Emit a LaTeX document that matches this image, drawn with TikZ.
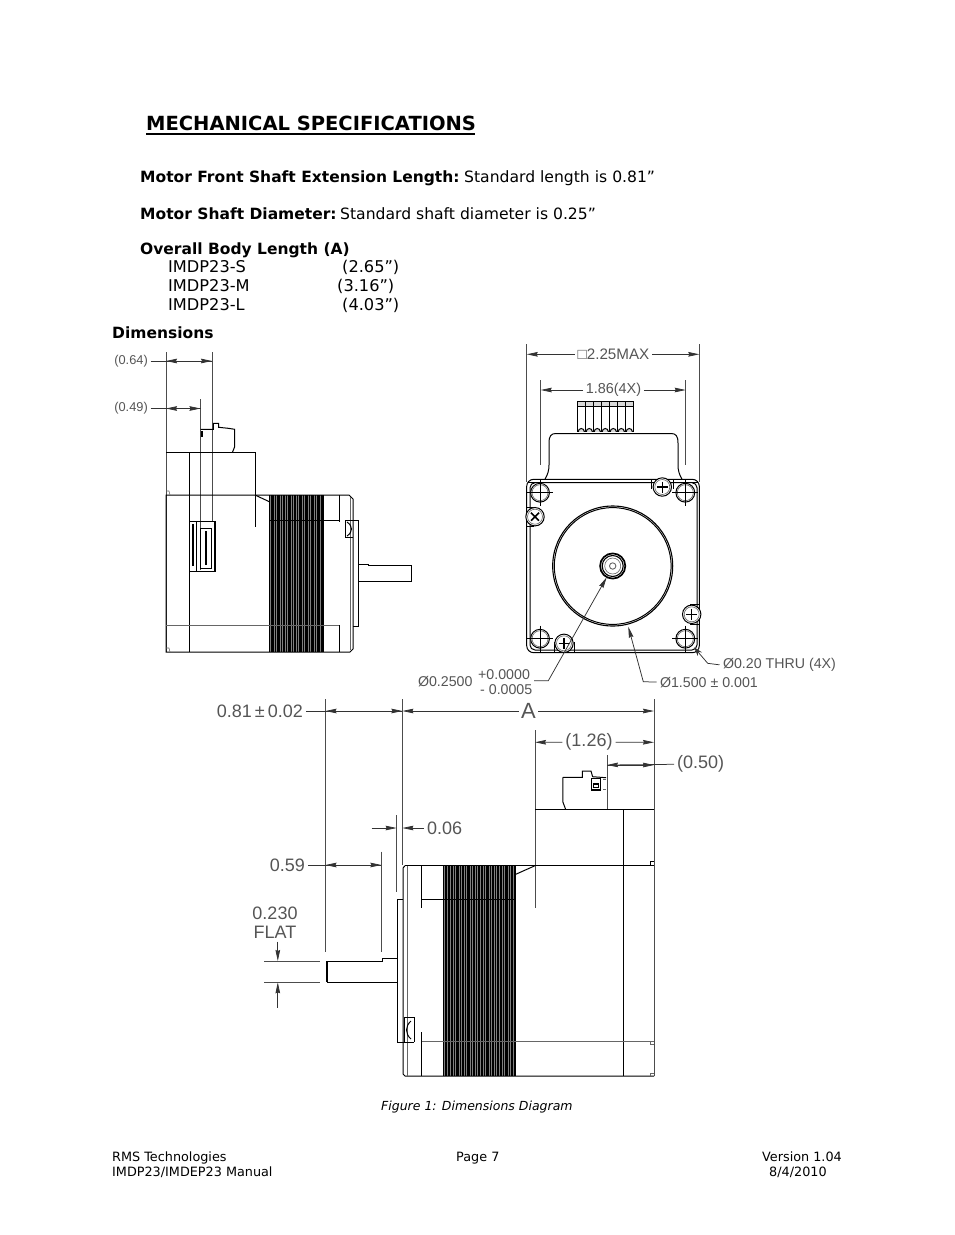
\documentclass[tikz,border=0pt]{standalone}
\usepackage{fontspec}
\setmainfont{DejaVu Sans}
\newfontfamily\dimfont{Liberation Sans}
\usetikzlibrary{arrows.meta}
\definecolor{dimgray}{HTML}{555555}
\tikzset{
    >={Stealth[length=11pt,width=4.6pt,inset=1pt]},
    pagetext/.style={anchor=base west,inner sep=0pt,font=\fontsize{15.6}{19}\selectfont},
    boldtext/.style={anchor=base west,inner sep=0pt,font=\bfseries\fontsize{15.5}{19}\selectfont},
    listtext/.style={anchor=base west,inner sep=0pt,font=\fontsize{16.2}{19}\selectfont},
    smalltext/.style={anchor=base west,inner sep=0pt,font=\fontsize{12.8}{15}\selectfont},
    dimtext/.style={inner sep=2.5pt,text=dimgray,font=\dimfont\fontsize{12.8}{14}\selectfont},
    leadtext/.style={anchor=base west,text=dimgray,font=\dimfont\fontsize{14.2}{16}\selectfont},
    bigdim/.style={inner sep=3pt,text=dimgray,font=\dimfont\fontsize{18}{20}\selectfont},
    dimline/.style={line width=0.75pt,draw=black!80},
    extline/.style={line width=0.75pt,draw=black!70},
    part/.style={line width=1pt},
    thinpart/.style={line width=0.6pt,draw=black!60},
    heavy/.style={line width=1.6pt}
}
\begin{document}
\begin{tikzpicture}[x=1pt,y=-1pt]
    \useasboundingbox (0,0) rectangle (954,1235);
    % heading and text
    \node[pagetext,font=\bfseries\fontsize{19.5}{21}\selectfont] (title) at (146,130) {MECHANICAL SPECIFICATIONS};
    \draw[line width=1.2pt] (146,134) -- (475,134);
    \node[boldtext] (shaftlen) at (140,182) {Motor Front Shaft Extension Length:};
    \node[pagetext] (shaftlenval) at (464,182) {Standard length is 0.81”};
    \node[boldtext] (shaftdia) at (140,219) {Motor Shaft Diameter:};
    \node[pagetext] (shaftdiaval) at (340,219) {Standard shaft diameter is 0.25”};
    \node[boldtext] (overall) at (140,254) {Overall Body Length (A)};
    \node[listtext] (smodel) at (168,272) {IMDP23-S};
    \node[listtext] (mmodel) at (168,291) {IMDP23-M};
    \node[listtext] (lmodel) at (168,310) {IMDP23-L};
    \node[listtext] (slen) at (342,272) {(2.65”)};
    \node[listtext] (mlen) at (337,291) {(3.16”)};
    \node[listtext] (llen) at (342,310) {(4.03”)};
    \node[boldtext] (dimhead) at (112,338) {Dimensions};

    % side view, top left
    \draw[extline] (166,352) -- (166,652);
    \draw[extline] (212,352) -- (212,522);
    \draw[extline] (200.5,399) -- (200.5,570);
    \node[dimtext,anchor=east] (d64) at (150.5,361) {(0.64)};
    \node[dimtext,anchor=east] (d49) at (150.5,408.5) {(0.49)};
    \coordinate (d64l) at (166,361);
    \coordinate (d64r) at (212,361);
    \coordinate (d49l) at (166,408.5);
    \coordinate (d49r) at (200.5,408.5);
    \draw[dimline,->] (d64) -- (d64r);
    \draw[dimline,->] (d64r) -- (d64l);
    \draw[dimline,->] (d49) -- (d49r);
    \draw[dimline,->] (d49r) -- (d49l);
    \fill[black!50] (269.5,495) rectangle (323.5,652);
    \foreach \d in {0,1.5,3,4,6,7.5,9,10,12,14,15,17,18.5,20,21,23,25,26,28,29.5,31,32,34,35.5,37,38,40,41.5,43,44,46,47.5,49,50,51.5,53,54} {
        \draw[line width=0.9pt] (269.5+\d,495) -- (269.5+\d,652);
    }
    \draw[part] (166,452.7) -- (255,452.7) -- (255,526.7);
    \draw[part] (166,495) -- (349,495) -- (353,499) -- (353,649) -- (350,652) -- (166,652) -- cycle;
    \draw[part] (200.7,429.3) -- (213.3,429.3) -- (213.3,423.3) -- (218.7,423.3) -- (218.7,427.3) -- (228.3,428.3) -- (234.7,429.3) -- (234.7,446.7) -- (232.3,452.7);
    \draw[heavy,line width=1.2pt] (202,431) -- (202,437);
    \draw[part] (189.3,452.7) -- (189.3,522);
    \draw[part] (189.3,569) -- (189.3,652);
    \draw[line width=1.2pt] (189.3,521.7) rectangle (215,571.7);
    \draw[part] (196,522) -- (196,571);
    \draw[part] (200,528.3) rectangle (211.7,568.3);
    \draw[heavy] (206,531) -- (206,565);
    \draw[heavy] (193,524) -- (193,566);
    \draw[part] (255,495) -- (269.3,501.7);
    \draw[part] (269.3,520) -- (339.3,520);
    \draw[part] (339.3,495) -- (339.3,522);
    \draw[part] (339.3,625) -- (339.3,652);
    \draw[thinpart,line width=0.9pt] (166,625.7) -- (339.3,625.7);
    \draw[thinpart,line width=0.9pt] (350.7,497) -- (350.7,650);
    \draw[part] (345.7,520) -- (358.3,520) -- (358.3,626) -- (353,626);
    \draw[part] (345.7,520) -- (345.7,537.7) -- (353,537.7);
    \draw[part] (347,522) .. controls (353,526) and (353,532) .. (347,536);
    \draw[part] (358.3,564) -- (368.3,564) -- (368.3,565.7) -- (411,565.7) -- (411,581.7) -- (358.3,581.7);
    \draw[thinpart] (166,491) -- (169,491) -- (170,495);
    \draw[thinpart] (166,648) -- (169,648) -- (170,652);

    % front view, top right
    \draw[extline] (526.7,344) -- (526.7,482);
    \draw[extline] (699.3,344) -- (699.3,482);
    \draw[extline] (540.7,380) -- (540.7,465);
    \draw[extline] (685.7,380) -- (685.7,465);
    \node[dimtext,font=\dimfont\fontsize{15.2}{17}\selectfont] (d225) at (613.5,354.3) {□2.25MAX};
    \node[dimtext,font=\dimfont\fontsize{14.4}{16}\selectfont] (d186) at (613.5,390) {1.86(4X)};
    \coordinate (d225l) at (526.7,354.3);
    \coordinate (d225r) at (699.3,354.3);
    \coordinate (d186l) at (540.7,390);
    \coordinate (d186r) at (685.7,390);
    \draw[dimline,->] (d225) -- (d225l);
    \draw[dimline,->] (d225) -- (d225r);
    \draw[dimline,->] (d186) -- (d186l);
    \draw[dimline,->] (d186) -- (d186r);
    % terminal block
    \draw[part] (577.3,401) rectangle (633.3,431.7);
    \draw[part,fill=black!15] (577.3,401) rectangle (633.3,406.7);
    \foreach \x in {585.3,593.3,601.3,609.3,617.3,625.3} {
        \draw[line width=1.2pt] (\x,401) -- (\x,431);
    }
    \foreach \x in {581.3,589.3,597.3,605.3,613.3,621.3,629.3} {
        \draw[part,fill=black!15] (\x,431.5) circle (3);
    }
    \fill[white] (577,432.2) rectangle (634,436);
    \draw[part] (545,479.3) .. controls (548,474) and (549,470) .. (549,465) -- (549,443) .. controls (549,436) and (551,433.5) .. (556,433.5) -- (671,433.5) .. controls (676,433.5) and (678,436) .. (678,443) -- (678,465) .. controls (678,470) and (679,474) .. (682,479.3);
    \draw[part,rounded corners=7pt] (526.7,479.3) rectangle (699.3,652.7);
    \draw[part,rounded corners=5pt] (530,482.7) rectangle (697,650);
    \draw[part] (528,482.7) -- (698,482.7);
    \foreach \x/\y in {540/492.7,685.3/492.7,540/638.7,685.3/638.7} {
        \draw[part,fill=white] (\x,\y) circle (9.4);
        \draw[thinpart] (\x,\y) circle (8);
        \draw[part] (\x-13,\y) -- (\x+13,\y);
        \draw[part] (\x,\y-13) -- (\x,\y+13);
    }
    % screws with their tabs
    \draw[part] (527,507.7) -- (534,507.7) (527,526.7) -- (534,526.7);
    \draw[part] (651,480) -- (651,489) (673,480) -- (673,489);
    \draw[part] (699,604.5) -- (690,604.5) (699,624) -- (690,624);
    \draw[part] (554.5,652) -- (554.5,642) (574,652) -- (574,642);
    \foreach \x/\y in {662.3/487,535/516.7,691.7/614.3,564/643.3} {
        \draw[part,fill=white] (\x,\y) circle (9.2);
        \draw[thinpart] (\x,\y) circle (7.5);
    }
    \foreach \x/\y in {662.3/487,691.7/614.3,564/643.3} {
        \draw[line width=1.2pt] (\x-5.5,\y) -- (\x+5.5,\y) (\x,\y-5.5) -- (\x,\y+5.5);
    }
    \draw[line width=1.5pt] (531,512.7) -- (539,520.7) (531,520.7) -- (539,512.7);
    % rotor and shaft
    \draw[line width=1.1pt] (612.7,566) circle (60);
    \draw[part] (612.7,566) circle (58.4);
    \draw[line width=1.7pt] (612.7,566) circle (12.6);
    \draw[line width=1.1pt] (612.7,566) circle (10.5);
    \draw[thinpart] (612.7,566) circle (8);
    \draw[thinpart,line width=0.9pt] (612.7,566) circle (3.2);
    % leaders of the front view
    \node[leadtext] (dshaft) at (414.5,686.5) {Ø0.2500};
    \node[leadtext,inner sep=0pt] (dplus) at (478,679) {+0.0000};
    \node[leadtext,inner sep=0pt] (dminus) at (480,694) {- 0.0005};
    \node[leadtext] (drotor) at (656.5,687) {Ø1.500 ± 0.001};
    \node[leadtext] (dhole) at (719.5,668.5) {Ø0.20 THRU (4X)};
    \coordinate (lshaftend) at (534,680.7);
    \coordinate (lshaft) at (548.3,680.7);
    \coordinate (lrotor) at (643.3,681.7);
    \coordinate (lhole) at (707.7,663.3);
    \coordinate (tshaft) at (606.7,577.3);
    \coordinate (trotor) at (628.3,626.7);
    \coordinate (thole) at (694,647.3);
    \draw[dimline,->] (lshaftend) -- (lshaft) -- (tshaft);
    \draw[dimline,->] (drotor.west) -- (lrotor) -- (trotor);
    \draw[dimline,-{Stealth[length=9pt,width=5.5pt]}] (dhole.west) -- (lhole) -- (thole);

    % side view, bottom
    \draw[extline] (325.5,699) -- (325.5,951.7);
    \draw[extline] (402.4,699) -- (402.4,865);
    \draw[extline,line width=0.9pt] (654,699) -- (654,1076);
    \draw[extline] (535,730) -- (535,908);
    \draw[extline] (607,755) -- (607,809);
    \draw[extline] (381.4,851.7) -- (381.4,951.7);
    \draw[extline] (396.6,815) -- (396.6,891.7);
    \draw[extline] (264.3,961) -- (320,961);
    \draw[extline] (264.3,982.3) -- (320,982.3);
    \node[bigdim,anchor=east] (d081) at (306,711) {0.81{\kern3pt}±{\kern3pt}0.02};
    \node[bigdim,font=\dimfont\fontsize{22}{24}\selectfont,inner sep=2pt] (da) at (528.5,711) {A};
    \node[bigdim] (d126) at (589,742) {(1.26)};
    \node[bigdim,anchor=west] (d050) at (674,764) {(0.50)};
    \node[bigdim,anchor=west] (d006) at (424,828) {0.06};
    \node[bigdim,anchor=east] (d059) at (308,865) {0.59};
    \node[bigdim,align=center,inner sep=0pt,font=\dimfont\fontsize{18}{19}\selectfont] (dflat) at (275,923) {0.230\\FLAT};
    \coordinate (d081l) at (325.5,711);
    \coordinate (d081r) at (402.4,711);
    \coordinate (dar) at (654,711);
    \coordinate (d126l) at (535,742.3);
    \coordinate (d126r) at (654,742.3);
    \coordinate (d050l) at (607,765);
    \coordinate (d050r) at (654,765);
    \coordinate (d059l) at (325.5,865);
    \coordinate (d059r) at (381.4,865);
    \coordinate (d006r) at (402.4,828);
    \coordinate (d006l) at (396.6,828);
    \coordinate (d006t) at (371.6,828);
    \coordinate (dflata) at (277.8,941.7);
    \coordinate (dflatb) at (277.8,961);
    \coordinate (dflatc) at (277.8,1007.7);
    \coordinate (dflatd) at (277.8,982.3);
    \draw[dimline,->] (d081) -- (d081r);
    \draw[dimline,->] (d081r) -- (d081l);
    \draw[dimline,->] (da) -- (d081r);
    \draw[dimline,->] (da) -- (dar);
    \draw[dimline,->] (d126) -- (d126l);
    \draw[dimline,->] (d126) -- (d126r);
    \draw[dimline,->] (d050) -- (d050l);
    \draw[dimline,->] (d050l) -- (d050r);
    \draw[dimline,->] (d059) -- (d059r);
    \draw[dimline,->] (d059r) -- (d059l);
    \draw[dimline,->] (d006t) -- (d006l);
    \draw[dimline,->] (d006) -- (d006r);
    \draw[dimline,->] (dflata) -- (dflatb);
    \draw[dimline,->] (dflatc) -- (dflatd);
    \fill[black!50] (443.7,865.7) rectangle (515.7,1076);
    \foreach \d in {0,1.5,3,4.5,6,8,9,11,12.5,14,15,17,19,20,22,23.5,25,26,28,30,31,33,34.5,36,38,39,41,42.5,44,45,47,49,50,52,53.5,55,57,58,60,61.5,63,64,66,68,69,70.5,72} {
        \draw[line width=0.9pt] (443.7+\d,865.7) -- (443.7+\d,1076);
    }
    \draw[part] (535,809) -- (654,809);
    \draw[part] (623,809) -- (623,1076);
    \draw[part] (405,865.7) -- (654,865.7);
    \draw[part] (405,865.7) -- (403,868) -- (403,1074) -- (405,1076) -- (654,1076);
    \draw[thinpart] (407,866) -- (407,1076);
    \draw[part] (421.7,865.7) -- (421.7,908);
    \draw[part] (421.7,1032) -- (421.7,1076);
    \draw[part] (421.7,899) -- (515.7,899);
    \draw[thinpart,line width=0.9pt] (421.7,1041.7) -- (654,1041.7);
    \draw[part] (515.7,874.3) -- (535,865.7);
    \draw[part] (562.8,777.3) -- (582.4,777.3) -- (582.4,771) -- (591,771) -- (592.6,776.7) -- (606,777.7);
    \draw[part] (562.8,777.3) -- (562.8,801.7) -- (565.5,809);
    \draw[line width=1.3pt] (591.5,778.5) rectangle (600.5,790);
    \draw[line width=1.1pt] (593.5,784) rectangle (598.5,787.5);
    \draw[thinpart] (603,779) -- (606,779) (603,789) -- (606,789);
    \draw[part] (650,865.7) -- (650,861.7) -- (654,861.7);
    \draw[thinpart] (650,1041.7) -- (650,1044) -- (654,1044);
    \draw[thinpart] (650,1076) -- (650,1073) -- (654,1073);
    \draw[part] (403,899) -- (397,899) -- (397,1042.3) -- (414,1042.3);
    \draw[part] (404,1017.7) -- (414,1017.7) -- (414,1042.3);
    \draw[part] (404,1017.7) -- (404,1042.3);
    \draw[part] (411,1021) .. controls (405,1026) and (405,1034) .. (411,1039);
    \draw[part] (327,961) -- (382,961) -- (382,958.3) -- (397,958.3);
    \draw[part] (397,982.3) -- (327,982.3);
    \draw[line width=1.3pt] (327,961) -- (327,982.3);

    % caption and footer
    \node[smalltext,font=\itshape\fontsize{12.5}{15}\selectfont] (caption) at (381,1110) {Figure 1: Dimensions Diagram};
    \node[smalltext] (foota) at (112,1161) {RMS Technologies};
    \node[smalltext] (footb) at (112,1176) {IMDP23/IMDEP23 Manual};
    \node[smalltext] (footc) at (456,1161) {Page 7};
    \node[smalltext] (footd) at (762,1161) {Version 1.04};
    \node[smalltext] (foote) at (769,1176) {8/4/2010};
\end{tikzpicture}
\end{document}
